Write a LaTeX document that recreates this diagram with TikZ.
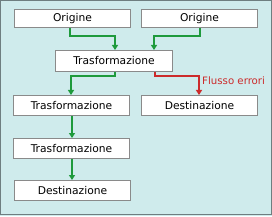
\documentclass[tikz,border=0pt]{standalone}
\usepackage{fontspec}
\setmainfont{DejaVu Sans}
\usetikzlibrary{arrows.meta}
\definecolor{bg}{HTML}{CFEBEC}
\definecolor{frame}{HTML}{6E7E80}
\definecolor{boxline}{HTML}{8A8A8A}
\definecolor{flow}{HTML}{1E9A3C}
\definecolor{err}{HTML}{CC2B2B}
\tikzset{
  box/.style={draw=boxline, line width=1pt, fill=white, inner sep=0pt, anchor=north west,
    font=\fontsize{10.7}{12}\selectfont},
  conn/.style={draw=flow, line width=1.3pt, -{Triangle[width=6pt,length=5pt]}},
  errconn/.style={draw=err, line width=1.3pt, -{Triangle[width=6pt,length=5pt]}},
}
\begin{document}
\begin{tikzpicture}[x=1pt,y=-1pt]
\useasboundingbox (0,0) rectangle (272,216);
\fill[bg] (0,0) rectangle (272,216);
\draw[frame, line width=1pt] (0.5,0.5) rectangle (271.5,214.5);
% boxes
\node[box, minimum width=116pt, minimum height=18pt] (o1) at (14,9) {Origine};
\node[box, minimum width=116pt, minimum height=18pt] (o2) at (141,9) {Origine};
\node[box, minimum width=117pt, minimum height=21pt] (t0) at (55,50) {Trasformazione};
\node[box, minimum width=116pt, minimum height=20pt] (t1) at (13,95) {Trasformazione};
\node[box, minimum width=116pt, minimum height=20pt] (d1) at (141,95) {Destinazione};
\node[box, minimum width=116pt, minimum height=20pt] (t2) at (13,138) {Trasformazione};
\node[box, minimum width=116pt, minimum height=20pt] (d2) at (14,180) {Destinazione};
% connectors
\draw[conn] (o1.south west) ++(56,0) |- (115,36) -- (115,0 |- t0.north);
\draw[conn] (o2.south west) ++(59,0) |- (154,36) -- (154,0 |- t0.north);
\draw[conn] (t0.south west) ++(60,0) |- (71,76) -- (71,0 |- t1.north);
\draw[errconn] (t0.south west) ++(100,0) |- (199,76) -- (199,0 |- d1.north);
\node[text=err, anchor=west, inner sep=0pt, font=\fontsize{10.2}{12}\selectfont] (lbl) at (202,81) {Flusso errori};
\draw[conn] (t1.south west) ++(59,0) -- (72,0 |- t2.north);
\draw[conn] (t2.south west) ++(59,0) -- (72,0 |- d2.north);
\end{tikzpicture}
\end{document}
